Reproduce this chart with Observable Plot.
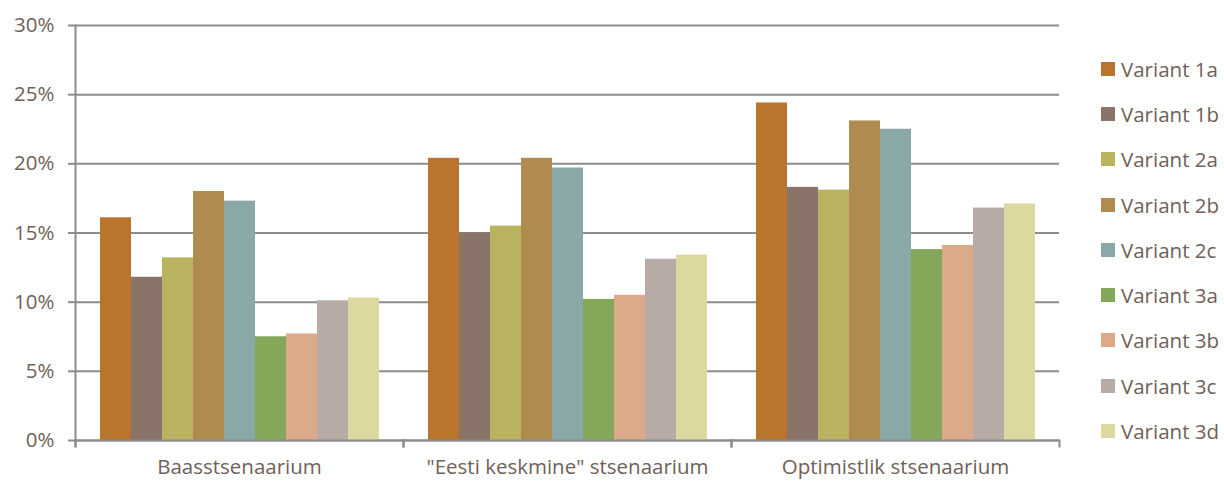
<!DOCTYPE html>
<html>
<head>
<meta charset="utf-8">
<script src="https://cdn.jsdelivr.net/npm/d3@7"></script>
<script src="https://cdn.jsdelivr.net/npm/@observablehq/plot@0.6"></script>
<style>
  html, body { margin: 0; padding: 0; background: #fff; }
  #wrap { position: relative; width: 1224px; height: 481px; font-family: "Open Sans", sans-serif; color: #6f6158; }
  #legend { position: absolute; left: 1101px; top: 46px; }
  .row { display: flex; align-items: center; height: 45.3px; font-size: 20.5px; }
  .sw { width: 14px; height: 14px; margin-right: 6px; }
</style>
</head>
<body>
<div id="wrap"></div>
<script>
const scenarios = ["Baasstsenaarium", "\"Eesti keskmine\" stsenaarium", "Optimistlik stsenaarium"];
const variants = ["Variant 1a", "Variant 1b", "Variant 2a", "Variant 2b", "Variant 2c", "Variant 3a", "Variant 3b", "Variant 3c", "Variant 3d"];
const colors = ["#b9752d", "#8a7369", "#b9b35f", "#b08b50", "#8ba8a8", "#84a75a", "#dcaa89", "#b8aaa5", "#ddd8a0"];
const baas = [0.161, 0.118, 0.132, 0.180, 0.173, 0.075, 0.077, 0.101, 0.103];
const keskmine = [0.204, 0.150, 0.155, 0.204, 0.197, 0.102, 0.105, 0.131, 0.134];
const optimistlik = [0.244, 0.183, 0.181, 0.231, 0.225, 0.138, 0.141, 0.168, 0.171];
const yTicks = [0, 0.05, 0.10, 0.15, 0.20, 0.25, 0.30];

const series = [baas, keskmine, optimistlik];
const data = [];
scenarios.forEach((s, i) => variants.forEach((v, j) => data.push({scenario: s, variant: v, value: series[i][j]})));

const axisColor = "#8c8c8c";
const textColor = "#6f6158";
const chart = Plot.plot({
  width: 1224,
  height: 481,
  marginLeft: 75,
  marginRight: 165,
  marginTop: 25,
  marginBottom: 41,
  style: {fontFamily: "'Open Sans', sans-serif", fontSize: "20.5px", color: textColor, background: "#fff"},
  fx: {domain: scenarios, padding: 0, label: null, axis: null},
  x: {domain: variants, paddingInner: 0, paddingOuter: 0.75, axis: null},
  y: {domain: [0, 0.30], axis: null, label: null},
  color: {domain: variants, range: colors},
  marks: [
    Plot.gridY(yTicks, {stroke: axisColor, strokeOpacity: 1, strokeWidth: 2}),
    Plot.axisY(yTicks, {anchor: "left", label: null, tickSize: 7, tickPadding: 14, stroke: axisColor, strokeWidth: 2, tickFormat: d3.format(".0%"), fontSize: 20.5, fill: textColor}),
    Plot.barY(data, {fx: "scenario", x: "variant", y: "value", fill: "variant"}),
    Plot.ruleY([0], {stroke: axisColor, strokeWidth: 2}),
    Plot.frame({anchor: "left", facetAnchor: "left", stroke: axisColor, strokeWidth: 2, insetBottom: -6}),
    Plot.frame({anchor: "left", stroke: axisColor, strokeWidth: 2, insetTop: 415, insetBottom: -6}),
    Plot.frame({anchor: "right", stroke: axisColor, strokeWidth: 2, insetTop: 415, insetBottom: -6}),
    Plot.axisFx({anchor: "bottom", tickSize: 0, tickPadding: 19, fontSize: 20.5, fill: textColor, label: null})
  ]
});
const wrap = document.getElementById("wrap");
wrap.appendChild(chart);

const legend = document.createElement("div");
legend.id = "legend";
variants.forEach((v, i) => {
  const row = document.createElement("div");
  row.className = "row";
  const sw = document.createElement("div");
  sw.className = "sw";
  sw.style.background = colors[i];
  const t = document.createElement("span");
  t.textContent = v;
  row.appendChild(sw);
  row.appendChild(t);
  legend.appendChild(row);
});
wrap.appendChild(legend);
</script>
</body>
</html>
